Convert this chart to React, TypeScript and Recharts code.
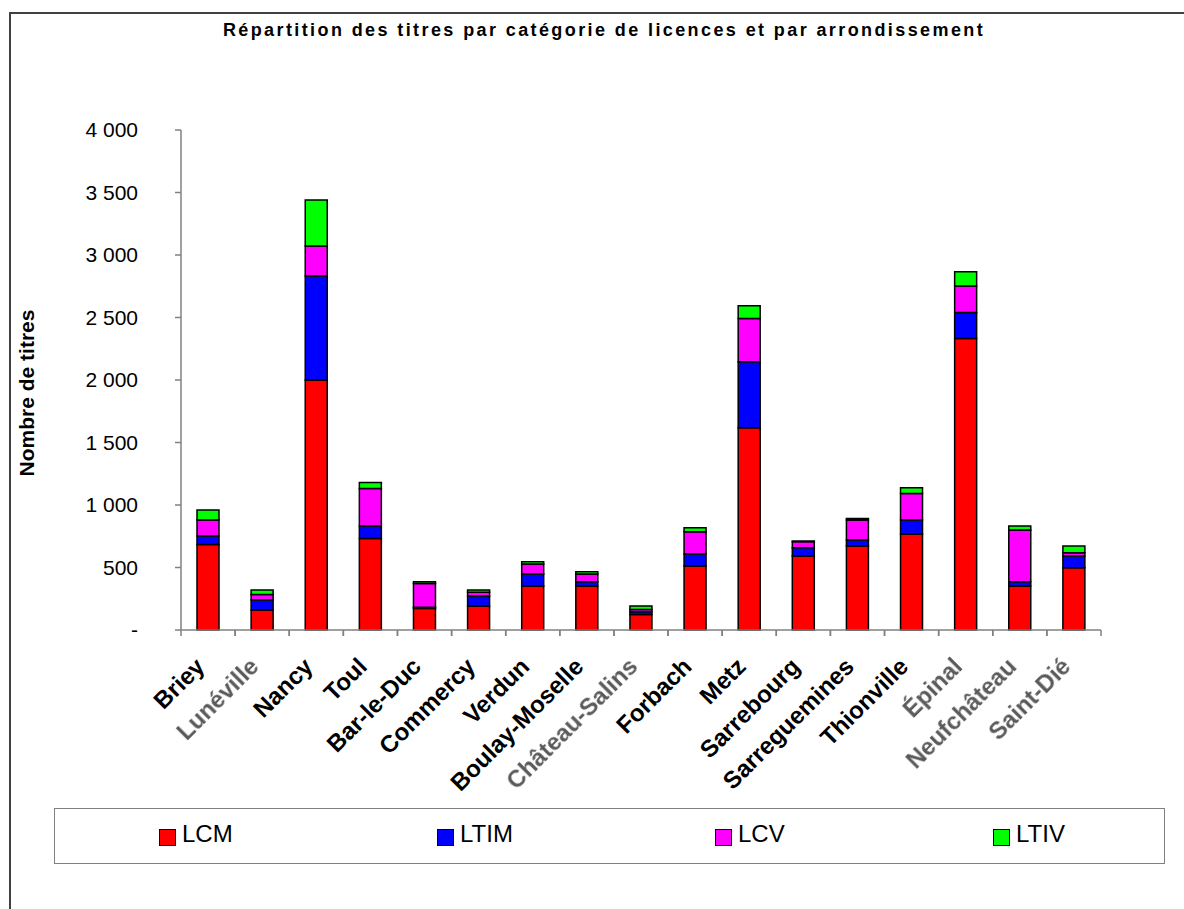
import React from 'react';
import { BarChart, Bar, XAxis, YAxis, Legend } from 'recharts';

// Licences par arrondissement (nombre de titres)
const arrondissements = [
  'Briey', 'Lunéville', 'Nancy', 'Toul', 'Bar-le-Duc', 'Commercy', 'Verdun',
  'Boulay-Moselle', 'Château-Salins', 'Forbach', 'Metz', 'Sarrebourg',
  'Sarreguemines', 'Thionville', 'Épinal', 'Neufchâteau', 'Saint-Dié',
];
const lcm = [685, 160, 2000, 733, 173, 192, 352, 352, 125, 512, 1619, 592, 672, 768, 2333, 352, 499];
const ltim = [67, 80, 832, 99, 10, 80, 96, 35, 22, 96, 528, 67, 48, 112, 208, 35, 93];
const lcv = [128, 45, 240, 301, 190, 30, 80, 61, 18, 179, 346, 48, 160, 213, 211, 413, 27];
const ltiv = [80, 35, 368, 48, 13, 18, 19, 19, 27, 32, 102, 5, 13, 46, 115, 32, 53];

const yTicks = [0, 500, 1000, 1500, 2000, 2500, 3000, 3500, 4000];

// names with accents are drawn in a washed-out grey
const greyLabels = ['Lunéville', 'Château-Salins', 'Épinal', 'Neufchâteau', 'Saint-Dié'];

const series = [
  { key: 'LCM', color: '#ff0000' },
  { key: 'LTIM', color: '#0000ff' },
  { key: 'LCV', color: '#ff00ff' },
  { key: 'LTIV', color: '#00ff00' },
];

const data = arrondissements.map((name, i) => ({
  name,
  LCM: lcm[i],
  LTIM: ltim[i],
  LCV: lcv[i],
  LTIV: ltiv[i],
}));

const FONT = 'Arial, "Liberation Sans", sans-serif';
const AXIS_GREY = '#808080';

const formatThousands = (v: number) =>
  v === 0 ? '-' : String(v).replace(/\B(?=(\d{3})+(?!\d))/g, ' ');

// category tick: boundary marks on both sides plus a label rotated 45°
const CityTick = (props: any) => {
  const { x, y, payload } = props;
  const half = payload && payload.offset ? payload.offset : 27;
  const grey = greyLabels.includes(payload.value);
  const ax = x - 2;
  const ay = y + 38;
  return (
    <g>
      <line x1={x - half} y1={y} x2={x - half} y2={y + 6} stroke={AXIS_GREY} strokeWidth={1.5} />
      <line x1={x + half} y1={y} x2={x + half} y2={y + 6} stroke={AXIS_GREY} strokeWidth={1.5} />
      <text
        x={ax}
        y={ay}
        transform={`rotate(-45 ${ax} ${ay})`}
        textAnchor="end"
        fontFamily={FONT}
        fontSize={24}
        fontWeight="bold"
        fill={grey ? '#5a5a5a' : '#000'}
        filter={grey ? 'url(#soft)' : undefined}
      >
        {payload.value}
      </text>
    </g>
  );
};

const LegendBox = () => (
  <div
    style={{
      width: 1111,
      height: 56,
      boxSizing: 'border-box',
      border: `1.5px solid ${AXIS_GREY}`,
      position: 'relative',
      fontFamily: FONT,
      fontSize: 24,
    }}
  >
    {series.map((s, i) => (
      <div
        key={s.key}
        style={{
          position: 'absolute',
          left: 104 + i * 278,
          top: 10,
          display: 'flex',
          alignItems: 'center',
          lineHeight: '30px',
        }}
      >
        <span
          style={{
            display: 'inline-block',
            width: 15,
            height: 15,
            background: s.color,
            border: '1.5px solid #000',
            marginRight: 6,
            marginTop: 7,
          }}
        />
        <span>{s.key}</span>
      </div>
    ))}
  </div>
);

const App: React.FC = () => (
  <div
    style={{
      position: 'absolute',
      left: 0,
      top: 0,
      width: 1184,
      height: 909,
      background: '#fff',
      overflow: 'hidden',
    }}
  >
    <div
      style={{
        position: 'absolute',
        left: 9,
        top: 12,
        width: 1300,
        height: 1000,
        border: '2px solid #404040',
      }}
    />
    <div
      style={{
        position: 'absolute',
        left: 12,
        top: 20,
        width: 1184,
        textAlign: 'center',
        fontFamily: FONT,
        fontSize: 18,
        fontWeight: 'bold',
        lineHeight: '20px',
        letterSpacing: 2.4,
      }}
    >
      Répartition des titres par catégorie de licences et par arrondissement
    </div>
    <BarChart
      width={1184}
      height={909}
      data={data}
      margin={{ top: 130, right: 83, bottom: 219, left: 11 }}
      style={{ position: 'absolute', left: 0, top: 0 }}
    >
      <defs>
        <filter id="soft" x="-10%" y="-10%" width="120%" height="120%">
          <feGaussianBlur stdDeviation="0.7" />
        </filter>
      </defs>
      <XAxis
        dataKey="name"
        interval={0}
        height={60}
        tickSize={0}
        tickMargin={0}
        tickLine={false}
        axisLine={{ stroke: AXIS_GREY, strokeWidth: 1.5 }}
        tick={<CityTick />}
      />
      <YAxis
        width={170}
        domain={[0, 4000]}
        ticks={yTicks}
        tickFormatter={formatThousands}
        tickSize={6}
        tickMargin={37}
        tick={{ fontFamily: FONT, fontSize: 21, fill: '#000' }}
        tickLine={{ stroke: AXIS_GREY, strokeWidth: 1.5 }}
        axisLine={{ stroke: AXIS_GREY, strokeWidth: 1.5 }}
        label={{
          content: (p: any) => {
            const vb = p.viewBox || { x: 11, y: 130, height: 500 };
            const cx = vb.x + 15;
            const cy = vb.y + vb.height / 2 + 13;
            return (
              <text
                x={cx}
                y={cy}
                transform={`rotate(-90 ${cx} ${cy})`}
                textAnchor="middle"
                dominantBaseline="central"
                fontFamily={FONT}
                fontSize={21}
                fontWeight="bold"
                fill="#000"
              >
                Nombre de titres
              </text>
            );
          },
        }}
      />
      <Legend
        layout="horizontal"
        verticalAlign="middle"
        align="center"
        content={<LegendBox />}
        wrapperStyle={{ position: 'absolute', left: 54, top: 808, width: 1111, height: 56 }}
      />
      {series.map((s) => (
        <Bar
          key={s.key}
          dataKey={s.key}
          stackId="titres"
          fill={s.color}
          stroke="#000"
          strokeWidth={1.5}
          barSize={22}
          isAnimationActive={false}
        />
      ))}
    </BarChart>
  </div>
);

export default App;
